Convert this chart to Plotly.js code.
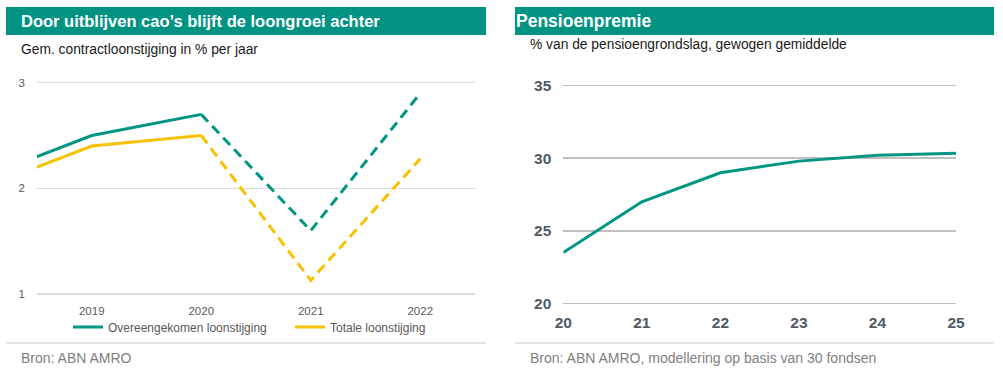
<!DOCTYPE html>
<html>
<head>
<meta charset="utf-8">
<script src="https://cdn.plot.ly/plotly-3.0.1.min.js"></script>
<style>html,body{margin:0;padding:0;background:#fff;}#chart{width:1003px;height:370px;}</style>
</head>
<body>
<div id="chart"></div>
<script>
// Left chart data
const years = [2018, 2019, 2020, 2021, 2022];
const yearTicks = [2019, 2020, 2021, 2022];
const overeengekomen = [2.1, 2.5, 2.7, 1.6, 2.9];
const totale = [2.0, 2.4, 2.5, 1.13, 2.28];
const leftYTicks = [1, 2, 3];
// Right chart data
const pensionYears = [20, 21, 22, 23, 24, 25];
const pensionLabels = ['20', '21', '22', '23', '24', '25'];
const pensioenpremie = [23.5, 27.0, 29.0, 29.8, 30.2, 30.35];
const rightYTicks = [20, 25, 30, 35];

const TEAL = '#009682';
const YELLOW = '#F7C100';
const HEADER = '#009384';
const W = 1003, H = 370;
const px = x => x / W;
const py = y => 1 - y / H;

const solidIdx = [0, 1, 2];
const dashIdx = [2, 3, 4];
const pick = (arr, idx) => idx.map(i => arr[i]);

const traces = [
  {x: pick(years, solidIdx), y: pick(overeengekomen, solidIdx), xaxis: 'x', yaxis: 'y', mode: 'lines',
   name: 'Overeengekomen loonstijging', line: {color: TEAL, width: 3}, showlegend: true, legendgroup: 'a'},
  {x: pick(years, dashIdx), y: pick(overeengekomen, dashIdx), xaxis: 'x', yaxis: 'y', mode: 'lines',
   name: 'Overeengekomen loonstijging', line: {color: TEAL, width: 3, dash: '10px,6px'}, showlegend: false, legendgroup: 'a'},
  {x: pick(years, solidIdx), y: pick(totale, solidIdx), xaxis: 'x', yaxis: 'y', mode: 'lines',
   name: 'Totale loonstijging', line: {color: YELLOW, width: 3}, showlegend: true, legendgroup: 'b'},
  {x: pick(years, dashIdx), y: pick(totale, dashIdx), xaxis: 'x', yaxis: 'y', mode: 'lines',
   name: 'Totale loonstijging', line: {color: YELLOW, width: 3, dash: '10px,6px'}, showlegend: false, legendgroup: 'b'},
  {x: pensionYears, y: pensioenpremie, xaxis: 'x2', yaxis: 'y2', mode: 'lines',
   name: 'Pensioenpremie', line: {color: TEAL, width: 3}, showlegend: false}
];

const leftTickFont = {family: 'Liberation Sans, Arial, sans-serif', size: 11.5, color: '#595959'};
const rightTickFont = {family: 'Liberation Sans, Arial, sans-serif', size: 15.5, color: '#4E5B66', weight: 'bold'};

const layout = {
  width: W, height: H,
  margin: {l: 0, r: 0, t: 0, b: 0},
  paper_bgcolor: '#fff', plot_bgcolor: 'rgba(0,0,0,0)',
  showlegend: true,
  legend: {orientation: 'h', x: px(68), xanchor: 'left', y: py(327), yanchor: 'middle',
           font: {family: 'Liberation Sans, Arial, sans-serif', size: 12, color: '#595959'},
           entrywidth: 177, entrywidthmode: 'pixels', bgcolor: 'rgba(0,0,0,0)', traceorder: 'normal'},
  xaxis: {domain: [px(37), px(475)], range: [2018.5, 2022.5], tickmode: 'array', tickvals: yearTicks,
          ticktext: yearTicks.map(String), showgrid: false, zeroline: false, showline: false, ticks: '',
          tickfont: leftTickFont, ticklabelstandoff: 3, fixedrange: true, anchor: 'y'},
  yaxis: {domain: [py(299.3), py(77.4)], range: [0.95, 3.05], tickmode: 'array', tickvals: leftYTicks,
          showgrid: true, gridcolor: '#DCDCDC', gridwidth: 1.5, zeroline: false, showline: false, ticks: '',
          tickfont: leftTickFont, ticklabelstandoff: 11, fixedrange: true, anchor: 'x'},
  xaxis2: {domain: [px(563.3), px(956)], range: [20, 25], tickmode: 'array', tickvals: pensionYears,
           ticktext: pensionLabels, showgrid: false, zeroline: false, showline: false, ticks: '',
           tickfont: rightTickFont, ticklabelstandoff: 1, fixedrange: true, anchor: 'y2'},
  yaxis2: {domain: [py(310.6), py(78.4)], range: [19.5, 35.5], tickmode: 'array', tickvals: rightYTicks,
           showgrid: true, gridcolor: '#BFBFBF', gridwidth: 1.5, zeroline: false, showline: false, ticks: '',
           tickfont: rightTickFont, ticklabelstandoff: 11, fixedrange: true, anchor: 'x2'},
  shapes: [
    {type: 'rect', xref: 'paper', yref: 'paper', x0: px(6), x1: px(486), y0: py(35), y1: py(7),
     fillcolor: HEADER, line: {width: 0}, layer: 'below'},
    {type: 'rect', xref: 'paper', yref: 'paper', x0: px(515), x1: px(994), y0: py(35), y1: py(7),
     fillcolor: HEADER, line: {width: 0}, layer: 'below'},
    {type: 'line', xref: 'paper', yref: 'paper', x0: px(6), x1: px(486), y0: py(343), y1: py(343),
     line: {color: '#D9D9D9', width: 1.5}},
    {type: 'line', xref: 'paper', yref: 'paper', x0: px(515), x1: px(994), y0: py(343), y1: py(343),
     line: {color: '#D9D9D9', width: 1.5}}
  ],
  annotations: [
    {text: 'Door uitblijven cao’s blijft de loongroei achter', xref: 'paper', yref: 'paper', x: px(19), y: py(21),
     xanchor: 'left', yanchor: 'middle', showarrow: false,
     font: {family: 'Liberation Sans, Arial, sans-serif', size: 16.5, color: '#fff', weight: 'bold'}},
    {text: 'Gem. contractloonstijging in % per jaar', xref: 'paper', yref: 'paper', x: px(19), y: py(50),
     xanchor: 'left', yanchor: 'middle', showarrow: false,
     font: {family: 'Liberation Sans, Arial, sans-serif', size: 13.8, color: '#1a1a1a'}},
    {text: 'Bron: ABN AMRO', xref: 'paper', yref: 'paper', x: px(19), y: py(358),
     xanchor: 'left', yanchor: 'middle', showarrow: false,
     font: {family: 'Liberation Sans, Arial, sans-serif', size: 14, color: '#7F7F7F'}},
    {text: 'Pensioenpremie', xref: 'paper', yref: 'paper', x: px(514), y: py(21),
     xanchor: 'left', yanchor: 'middle', showarrow: false,
     font: {family: 'Liberation Sans, Arial, sans-serif', size: 17.5, color: '#fff', weight: 'bold'}},
    {text: '% van de pensioengrondslag, gewogen gemiddelde', xref: 'paper', yref: 'paper', x: px(528), y: py(45),
     xanchor: 'left', yanchor: 'middle', showarrow: false,
     font: {family: 'Liberation Sans, Arial, sans-serif', size: 13.8, color: '#1a1a1a'}},
    {text: 'Bron: ABN AMRO, modellering op basis van 30 fondsen', xref: 'paper', yref: 'paper', x: px(528), y: py(358),
     xanchor: 'left', yanchor: 'middle', showarrow: false,
     font: {family: 'Liberation Sans, Arial, sans-serif', size: 14, color: '#7F7F7F'}}
  ]
};

Plotly.newPlot('chart', traces, layout, {staticPlot: true, displayModeBar: false});
</script>
</body>
</html>
